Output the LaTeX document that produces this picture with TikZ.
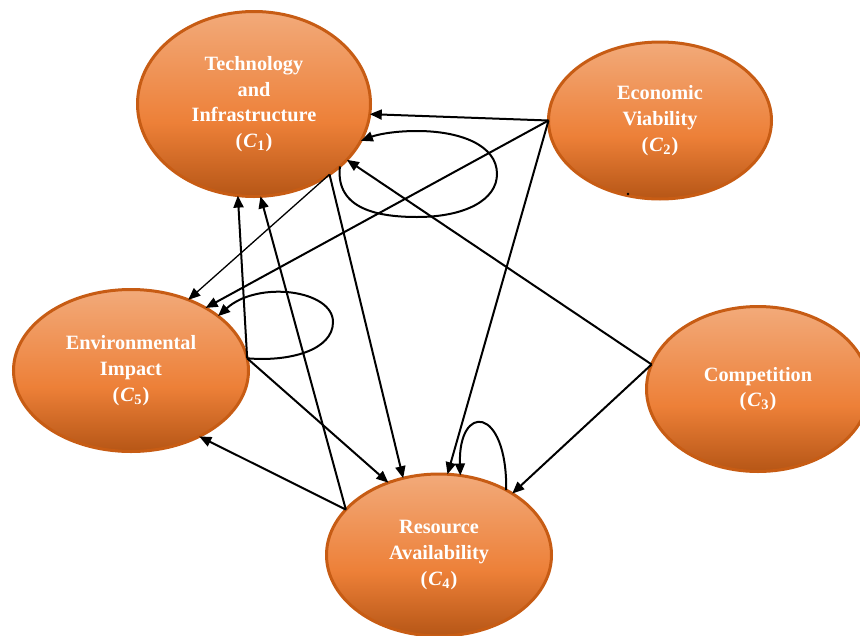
\documentclass[tikz,border=0pt]{standalone}
\usepackage{fontspec}
\setmainfont{Liberation Serif}
\usetikzlibrary{shapes.geometric,arrows.meta}
\definecolor{ovalTop}{RGB}{242,170,122}
\definecolor{ovalMid}{RGB}{237,128,56}
\definecolor{ovalBot}{RGB}{182,86,22}
\definecolor{ovalRim}{RGB}{199,92,20}
% light top, plain orange a little below the middle, darker bottom
\pgfdeclareverticalshading{ovalshade}{100bp}{%
  color(0bp)=(ovalBot); color(25bp)=(ovalBot); color(45bp)=(ovalMid);
  color(75bp)=(ovalTop); color(100bp)=(ovalTop)}
% criterion tag such as (C1), italic C with a lowered index
\newcommand\critlabel[1]{(\kern1pt{\itshape C}\kern0.6pt\raisebox{-0.35ex}{\fontsize{14.5}{14.5}\selectfont #1}\kern1pt)}

\begin{document}
\begin{tikzpicture}[x=1pt,y=-1pt,
  factor/.style={ellipse, draw=ovalRim, line width=3pt,
    shading=ovalshade,
    inner sep=0pt, outer sep=0pt, text=white, align=center,
    font=\fontsize{20.3}{25.7}\selectfont\bfseries},
  link/.style={line width=2pt, -{Triangle[length=12pt,width=10pt]}},
  thinlink/.style={link, line width=1.3pt}]

\useasboundingbox (0,0) rectangle (860,635);
\fill[white] (0,0) rectangle (860,635);

% criteria
\node[factor, minimum width=233pt, minimum height=185pt] (C1) at (254,104)
  {Technology\\and\\Infrastructure\\\critlabel{1}};
\node[factor, minimum width=223pt, minimum height=157pt] (C2) at (660,120.5)
  {Economic\\Viability\\\critlabel{2}};
\node[factor, minimum width=223pt, minimum height=165pt] (C3) at (758,389)
  {Competition\\\critlabel{3}};
\node[factor, minimum width=225pt, minimum height=162pt] (C4) at (439,555)
  {Resource\\Availability\\\critlabel{4}};
\node[factor, minimum width=235pt, minimum height=162pt] (C5) at (131,370.5)
  {Environmental\\Impact\\\critlabel{5}};

% small mark on the rim of C2
\coordinate (dot) at (628,194);
\fill (dot) circle (1.3pt);

% influences
\draw[link] (C2.180) -- (C1.-5.8);
\draw[link] (C2.180) -- (C5.40);
\draw[link] (C2.180) -- (C4.84);
\draw[link] (C3.167) -- (C1.-31.7);
\draw[link] (C3.167) -- (C4.40);
\draw[thinlink] (C1.-43) -- (C5.51);
\draw[link] (C1.-43) -- (C4.115);
\draw[link] (C5.6) -- (C1.-100.5);
\draw[link] (C5.6) -- (C4.125);
\draw[link] (C4.154) -- (C1.-86.3);
\draw[link] (C4.154) -- (C5.-44);

% self loops
\draw[link] (C1.-36.2) .. controls (335,210) and (380,217) .. (417,217)
  .. controls (465,217) and (497,200) .. (497,174)
  .. controls (497,145) and (460,131) .. (417,131)
  .. controls (392,131) and (376,135) .. (C1.-19.4);
\draw[link] (C5.6) .. controls (290,362) and (333,350) .. (333,322)
  .. controls (333,290) and (258,280) .. (C5.32.6);
\draw[link] (C4.44.6) .. controls (507,405) and (458,403) .. (C4.75);
\end{tikzpicture}
\end{document}
